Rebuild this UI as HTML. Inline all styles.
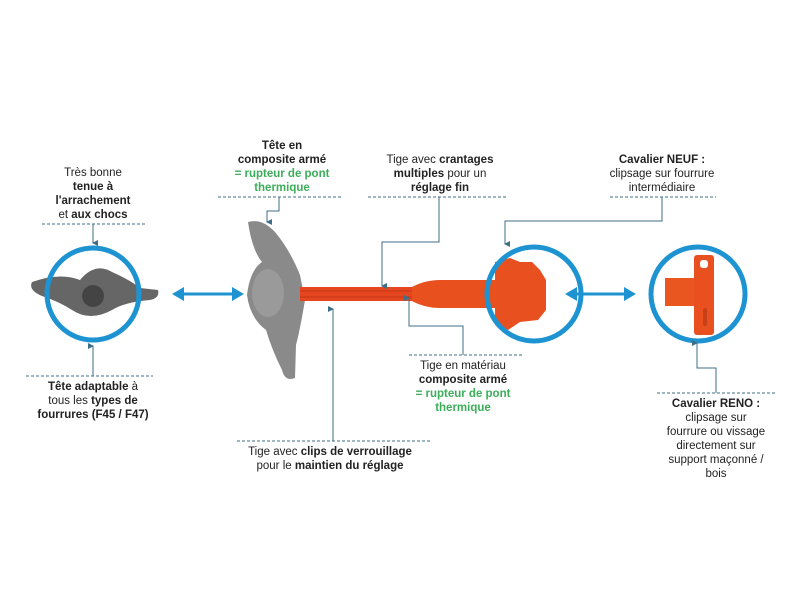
<!DOCTYPE html>
<html><head><meta charset="utf-8"><style>
html,body{margin:0;padding:0;background:#fff;}
svg{display:block;}
text{font-family:"Liberation Sans",Arial,sans-serif;font-size:11.5px;fill:#222;text-anchor:middle;}
.b{font-weight:bold;}
.g{font-weight:bold;fill:#3cae5a;}
.d{stroke:#3f6f86;stroke-width:1;stroke-dasharray:3,2;fill:none;}
.c{stroke:#3f6f86;stroke-width:1;fill:none;}
</style></head><body>
<svg width="800" height="600" viewBox="0 0 800 600">
<defs>
<marker id="a" markerWidth="6" markerHeight="6" refX="3" refY="5" orient="auto-start-reverse" markerUnits="userSpaceOnUse"><path d="M0,0 L3,6 L6,0 Z" fill="#3f6f86"/></marker>
</defs>
<!-- left piece -->
<path d="M32,282 Q60,272 80,280 Q95,262 112,272 Q130,280 140,288 L158,290 Q160,298 150,300 Q125,302 112,310 Q90,322 72,310 Q60,302 42,296 Q28,290 32,282Z" fill="#666"/>
<circle cx="93" cy="296" r="11" fill="#444"/>
<circle cx="93" cy="294" r="46" fill="none" stroke="#1e93d2" stroke-width="5"/>
<!-- middle gray head -->
<path d="M248,222 Q262,218 275,232 Q290,250 300,275 L305,300 Q300,330 296,345 L295,378 Q285,382 282,370 Q272,350 266,330 Q250,318 247,295 Q250,270 262,262 Q252,250 248,222Z" fill="#8a8a8a"/>
<ellipse cx="268" cy="293" rx="16" ry="24" fill="#9a9a9a"/>
<!-- rod -->
<rect x="300" y="287" width="118" height="14" fill="#e5461f"/>
<line x1="300" y1="291" x2="418" y2="291" stroke="#c23513" stroke-width="1"/>
<line x1="300" y1="297" x2="418" y2="297" stroke="#c23513" stroke-width="1"/>
<path d="M412,287 Q425,280 440,280 L495,280 L495,308 L440,308 Q425,308 412,301Z" fill="#e8501e"/>
<path d="M495,262 L510,258 L520,262 L532,262 L540,270 L546,280 L546,310 L538,320 L520,322 L508,330 L495,325Z" fill="#e85020"/>
<circle cx="534" cy="294" r="47" fill="none" stroke="#1e93d2" stroke-width="5"/>
<!-- right piece -->
<rect x="665" y="278" width="36" height="28" fill="#e9561f"/>
<rect x="694" y="255" width="20" height="80" rx="3" fill="#e85020"/>
<rect x="700" y="260" width="8" height="8" rx="3" fill="#fff"/>
<rect x="703" y="308" width="4" height="18" rx="2" fill="#c84018"/>
<circle cx="698" cy="294" r="47" fill="none" stroke="#1e93d2" stroke-width="5"/>
<!-- double arrows -->
<g stroke="#1e93d2" stroke-width="3" fill="#1e93d2">
<line x1="180" y1="294" x2="236" y2="294"/>
<path d="M172,294 L184,287 L184,301Z" stroke="none"/>
<path d="M244,294 L232,287 L232,301Z" stroke="none"/>
<line x1="573" y1="294" x2="628" y2="294"/>
<path d="M565,294 L577,287 L577,301Z" stroke="none"/>
<path d="M636,294 L624,287 L624,301Z" stroke="none"/>
</g>
<!-- left top label -->
<text x="93" y="176">Très bonne</text>
<text x="93" y="190" class="b">tenue à</text>
<text x="93" y="204" class="b">l'arrachement</text>
<text x="93" y="218">et <tspan class="b">aux chocs</tspan></text>
<line class="d" x1="42" y1="224" x2="145" y2="224"/>
<line class="c" x1="93" y1="224" x2="93" y2="243" marker-end="url(#a)"/>
<!-- left bottom -->
<line class="d" x1="26" y1="376" x2="153" y2="376"/>
<line class="c" x1="93" y1="376" x2="93" y2="346" marker-end="url(#a)"/>
<text x="93" y="390"><tspan class="b">Tête adaptable</tspan> à</text>
<text x="93" y="404">tous les <tspan class="b">types de</tspan></text>
<text x="93" y="418" class="b">fourrures (F45 / F47)</text>
<!-- middle top -->
<text x="282" y="149" class="b">Tête en</text>
<text x="282" y="163" class="b">composite armé</text>
<text x="282" y="177" class="g">= rupteur de pont</text>
<text x="282" y="191" class="g">thermique</text>
<line class="d" x1="218" y1="197" x2="342" y2="197"/>
<polyline class="c" points="279,197 279,211 267,211 267,222" marker-end="url(#a)"/>
<!-- crantages -->
<text x="440" y="163">Tige avec <tspan class="b">crantages</tspan></text>
<text x="440" y="177"><tspan class="b">multiples</tspan> pour un</text>
<text x="440" y="191" class="b">réglage fin</text>
<line class="d" x1="368" y1="197" x2="506" y2="197"/>
<polyline class="c" points="439,197 439,242 382,242 382,286" marker-end="url(#a)"/>
<!-- Cavalier NEUF -->
<text x="662" y="163" class="b">Cavalier NEUF :</text>
<text x="662" y="177">clipsage sur fourrure</text>
<text x="662" y="191">intermédiaire</text>
<line class="d" x1="610" y1="197" x2="716" y2="197"/>
<polyline class="c" points="662,197 662,221 505,221 505,244" marker-end="url(#a)"/>
<!-- Tige matériau -->
<line class="d" x1="409" y1="355" x2="524" y2="355"/>
<polyline class="c" points="463,355 463,326 409,326 409,298" marker-end="url(#a)"/>
<text x="463" y="369">Tige en matériau</text>
<text x="463" y="383" class="b">composite armé</text>
<text x="463" y="397" class="g">= rupteur de pont</text>
<text x="463" y="411" class="g">thermique</text>
<!-- clips -->
<line class="d" x1="237" y1="441" x2="432" y2="441"/>
<line class="c" x1="333" y1="441" x2="333" y2="309" marker-end="url(#a)"/>
<text x="330" y="455">Tige avec <tspan class="b">clips de verrouillage</tspan></text>
<text x="330" y="469">pour le <tspan class="b">maintien du réglage</tspan></text>
<!-- RENO -->
<line class="d" x1="657" y1="393" x2="776" y2="393"/>
<polyline class="c" points="716,393 716,368 697,368 697,343" marker-end="url(#a)"/>
<text x="716" y="407" class="b">Cavalier RENO :</text>
<text x="716" y="421">clipsage sur</text>
<text x="716" y="435">fourrure ou vissage</text>
<text x="716" y="449">directement sur</text>
<text x="716" y="463">support maçonné /</text>
<text x="716" y="477">bois</text>
</svg>
</body></html>
